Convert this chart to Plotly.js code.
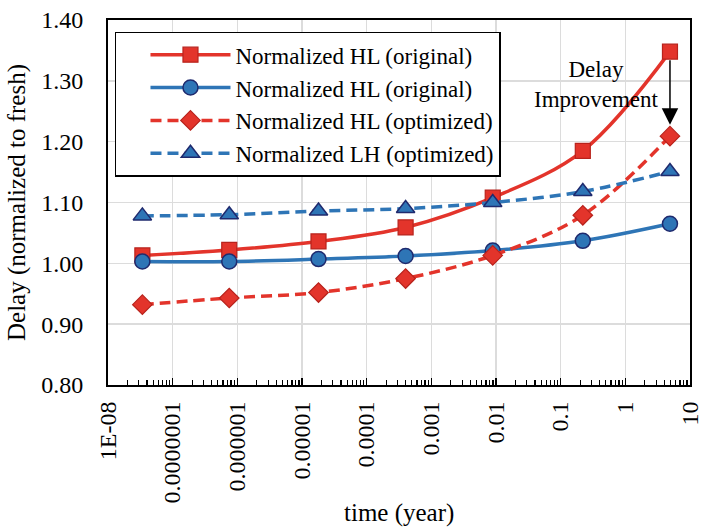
<!DOCTYPE html>
<html>
<head>
<meta charset="utf-8">
<script src="https://cdn.plot.ly/plotly-3.0.1.min.js"></script>
<style>html,body{margin:0;padding:0;background:#fff;}#chart{width:702px;height:527px;}</style>
</head>
<body>
<div id="chart"></div>
<script>
// Data (time in years, delay normalized to fresh)
const timeYears = [3.4e-8, 7.5e-7, 1.8e-5, 4.0e-4, 8.9e-3, 0.22, 4.9];
const hlOriginal = [1.013, 1.022, 1.036, 1.059, 1.108, 1.185, 1.348];
const hlOriginalBlue = [1.003, 1.003, 1.007, 1.012, 1.021, 1.037, 1.065];
const hlOptimized = [0.932, 0.943, 0.952, 0.975, 1.013, 1.079, 1.209];
const lhOptimized = [1.078, 1.080, 1.086, 1.090, 1.100, 1.118, 1.151];
const seriesNames = ["Normalized HL (original)", "Normalized HL (original)", "Normalized HL (optimized)", "Normalized LH (optimized)"];
const xTickVals = [1e-8, 1e-7, 1e-6, 1e-5, 1e-4, 1e-3, 1e-2, 1e-1, 1, 10];
const xTickText = ["1E-08", "0.0000001", "0.000001", "0.00001", "0.0001", "0.001", "0.01", "0.1", "1", "10"];

const RED = '#E3342B', RED_EDGE = '#B8231C';
const BLUE = '#2E75B6', BLUE_EDGE = '#1F2A6E';
const FONT = 'Liberation Serif';

const traces = [
  {x: timeYears, y: hlOriginal, name: seriesNames[0], legendgroup: 'a', mode: 'lines+markers',
   line: {color: RED, width: 3.5, shape: 'spline'},
   marker: {symbol: 'square', size: 15, color: RED, line: {color: RED_EDGE, width: 1.2}}},
  {x: timeYears, y: hlOriginalBlue, name: seriesNames[1], legendgroup: 'b', mode: 'lines+markers',
   line: {color: BLUE, width: 3.5, shape: 'spline'},
   marker: {symbol: 'circle', size: 15, color: BLUE, line: {color: BLUE_EDGE, width: 1.5}}},
  {x: timeYears, y: hlOptimized, name: seriesNames[2], legendgroup: 'c', mode: 'lines+markers',
   line: {color: RED, width: 3.5, shape: 'spline', dash: '11px,6px'},
   marker: {symbol: 'diamond', size: 15, color: RED, line: {color: RED_EDGE, width: 1.2}}},
  {x: timeYears, y: lhOptimized, name: seriesNames[3], legendgroup: 'd', mode: 'lines+markers',
   line: {color: BLUE, width: 3.5, shape: 'spline', dash: '11px,6px'},
   marker: {symbol: 'triangle-up', size: 16, color: BLUE, line: {color: BLUE_EDGE, width: 1.5}}}
];

const layout = {
  width: 702, height: 527,
  margin: {l: 108, r: 12, t: 20, b: 142},
  paper_bgcolor: '#fff', plot_bgcolor: '#fff',
  font: {family: FONT, size: 23, color: '#000'},
  showlegend: true,
  legend: {
    x: 0.012, y: 0.968, xanchor: 'left', yanchor: 'top',
    bgcolor: '#fff', bordercolor: '#000', borderwidth: 1.5,
    font: {family: FONT, size: 23, color: '#000'},
    itemwidth: 80, indentation: 29, tracegroupgap: 0, traceorder: 'grouped'
  },
  xaxis: {
    type: 'log', range: [-8, 1],
    tickmode: 'array', tickvals: xTickVals, ticktext: xTickText,
    tickangle: -90, ticks: 'inside', ticklen: 7, tickwidth: 1.5, tickcolor: '#000',
    ticklabelstandoff: 5, ticklabeloverflow: 'allow',
    showgrid: true, gridcolor: '#dcdcdc', gridwidth: 1.5,
    showline: true, linecolor: '#000', linewidth: 2, mirror: true,
    zeroline: false,
    tickfont: {family: FONT, size: 24, color: '#000'},
    minor: {ticks: 'inside', ticklen: 5, tickwidth: 1.2, tickcolor: '#000', showgrid: false, dtick: 'D1'}
  },
  yaxis: {
    range: [0.8, 1.4], dtick: 0.1, tickformat: '.2f',
    ticks: '', ticklabelstandoff: 18,
    showgrid: true, gridcolor: '#dcdcdc', gridwidth: 1.5,
    showline: true, linecolor: '#000', linewidth: 2, mirror: true,
    zeroline: false,
    tickfont: {family: FONT, size: 24, color: '#000'},
    title: {text: 'Delay (normalized to fresh)', font: {family: FONT, size: 25, color: '#000'}, standoff: 8}
  },
  annotations: [
    {x: 0.5, y: -0.351, xref: 'paper', yref: 'paper', text: 'time (year)', showarrow: false,
     xanchor: 'center', yanchor: 'middle', font: {family: FONT, size: 25, color: '#000'}},
    {x: -0.44, y: 1.294, xref: 'x', yref: 'y', text: 'Delay<br>Improvement',
     showarrow: false, font: {family: FONT, size: 23, color: '#000'}, align: 'center'},
    {x: Math.log10(timeYears[6]), y: 1.228, xref: 'x', yref: 'y', text: '',
     showarrow: true, ax: 0, ay: -66, arrowhead: 2, arrowsize: 2.2, arrowwidth: 1.5, arrowcolor: '#000'}
  ]
};

Plotly.newPlot('chart', traces, layout, {displayModeBar: false, staticPlot: true});
</script>
</body>
</html>
